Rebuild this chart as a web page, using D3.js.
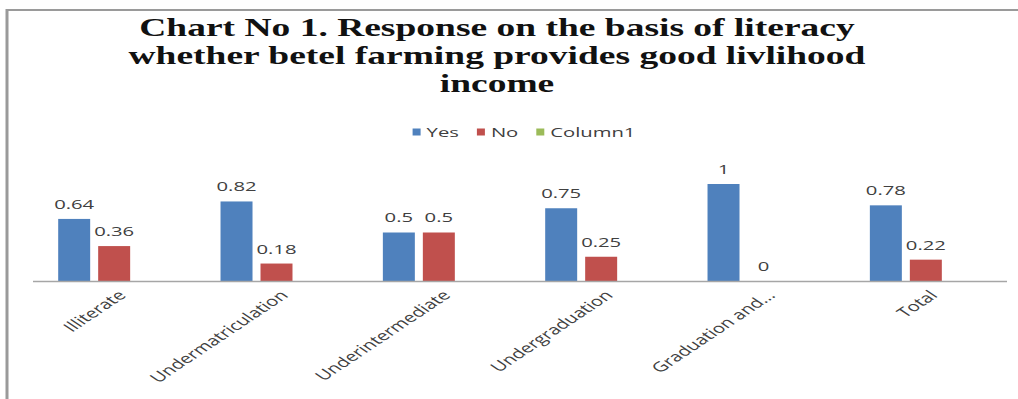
<!DOCTYPE html>
<html>
<head>
<meta charset="utf-8">
<script src="https://cdn.jsdelivr.net/npm/d3@7"></script>
<style>
	html, body { margin: 0; padding: 0; background: #fff; }
	#chart { width: 1018px; height: 399px; }
</style>
</head>
<body>
<div id="chart"></div>
<script>
'use strict';

// data
var categories		= ['Illiterate', 'Undermatriculation', 'Underintermediate', 'Undergraduation', 'Graduation and...', 'Total'];
var seriesNames		= ['Yes', 'No', 'Column1'];
var yesValues		= [0.64, 0.82, 0.5, 0.75, 1, 0.78];
var noValues		= [0.36, 0.18, 0.5, 0.25, 0, 0.22];
var column1Values	= [null, null, null, null, null, null];
var titleLines		= ['Chart No 1. Response on the basis of literacy', 'whether betel farming provides good livlihood', 'income'];

// the picture is stretched sideways, so draw in a narrower box and let the viewBox widen it
var W = 1018;
var H = 399;
var k = 1.5;
var vw = W / k;

var colors = { Yes: '#4f81bd', No: '#c0504d', Column1: '#9bbb59' };
var textColor = '#404040';

function _each(arr, fn){ for (var i = 0; i < arr.length; i++){ fn(arr[i], i); } }

var svg = d3.select('#chart').append('svg')
	.attr('width', W)
	.attr('height', H)
	.attr('viewBox', '0 0 ' + vw + ' ' + H)
	.attr('preserveAspectRatio', 'none');

// outer frame (only top and left show)
svg.append('rect')
	.attr('x', 7 / k)
	.attr('y', 10)
	.attr('width', vw)
	.attr('height', H)
	.attr('fill', 'none')
	.attr('stroke', '#9a9a9a')
	.attr('stroke-width', 2);

// title
svg.append('g')
	.selectAll('text')
	.data(titleLines)
	.enter()
	.append('text')
	.attr('x', 497 / k)
	.attr('y', function(d, i){ return 36 + i * 28; })
	.attr('text-anchor', 'middle')
	.style('font-family', '"Liberation Serif", "Times New Roman", serif')
	.style('font-weight', 'bold')
	.style('font-size', '25px')
	.style('fill', '#111')
	.text(function(d){ return d; });

// scales
var x0 = d3.scaleBand()
	.domain(categories)
	.range([33 / k, 1007 / k]);

// three slots per category, the empty Column1 still takes its place
var x1 = d3.scaleBand()
	.domain(seriesNames)
	.range([0, x0.bandwidth()])
	.paddingInner(0.2)
	.paddingOuter(0.63);

var y = d3.scaleLinear()
	.domain([0, 1])
	.range([281, 184]);

var seriesValues = { Yes: yesValues, No: noValues, Column1: column1Values };

var rows = [];
_each(categories, function(c, i){
	_each(seriesNames, function(s){
		var v = seriesValues[s][i];
		if (v !== null && v !== undefined){
			rows.push({ cat: c, series: s, value: v });
		}
	});
});

// bars
svg.append('g')
	.selectAll('rect')
	.data(rows)
	.enter()
	.append('rect')
	.attr('x', function(d){ return x0(d.cat) + x1(d.series); })
	.attr('y', function(d){ return y(d.value); })
	.attr('width', x1.bandwidth())
	.attr('height', function(d){ return y(0) - y(d.value); })
	.attr('fill', function(d){ return colors[d.series]; });

// value labels
svg.append('g')
	.selectAll('text')
	.data(rows)
	.enter()
	.append('text')
	.attr('x', function(d){ return x0(d.cat) + x1(d.series) + x1.bandwidth() / 2; })
	.attr('y', function(d){ return y(d.value) - 10; })
	.attr('text-anchor', 'middle')
	.style('font-family', '"Open Sans", sans-serif')
	.style('font-size', '13.5px')
	.style('fill', textColor)
	.text(function(d){ return d.value; });

// category axis
var xAxis = svg.append('g')
	.attr('transform', 'translate(0,' + y(0) + ')')
	.call(d3.axisBottom(x0).tickSize(0).tickPadding(0));

xAxis.select('.domain')
	.attr('d', 'M' + (33 / k) + ',0.5H' + (1007 / k))
	.attr('stroke', '#a6a6a6')
	.attr('stroke-width', 1.5);

xAxis.selectAll('.tick text')
	.attr('x', 0)
	.attr('y', 0)
	.attr('dy', '0.75em')
	.attr('text-anchor', 'end')
	.attr('transform', 'translate(' + (2 / k) + ',8) rotate(-45)')
	.style('font-family', '"Open Sans", sans-serif')
	.style('font-size', '13.5px')
	.style('fill', textColor);

// legend
var legend = svg.append('g').attr('class', 'legend');
var lx = 0;
_each(seriesNames, function(s){
	var item = legend.append('g').attr('transform', 'translate(' + lx + ',0)');
	item.append('rect')
		.attr('x', 0)
		.attr('y', -3.5)
		.attr('width', 8 / k)
		.attr('height', 7)
		.attr('fill', colors[s]);
	var t = item.append('text')
		.attr('x', 14 / k)
		.attr('y', 0)
		.attr('dy', '0.35em')
		.style('font-family', '"Open Sans", sans-serif')
		.style('font-size', '13.5px')
		.style('fill', textColor)
		.text(s);
	lx += 14 / k + t.node().getComputedTextLength() + 18 / k;
});
var legendW = lx - 18 / k;
legend.attr('transform', 'translate(' + (524 / k - legendW / 2) + ',132)');
</script>
</body>
</html>
